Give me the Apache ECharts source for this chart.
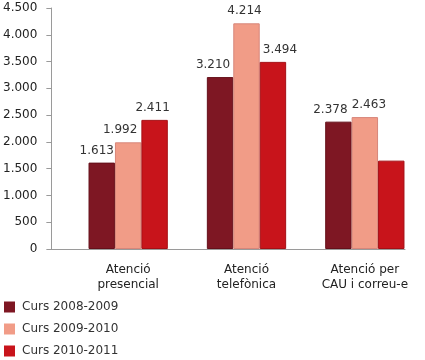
<!DOCTYPE html>
<html><head><meta charset="utf-8">
<script src="https://cdn.jsdelivr.net/npm/echarts@6/dist/echarts.min.js"></script>
<style>html,body{margin:0;padding:0;background:#fff}#c{width:425px;height:360px}</style>
</head><body><div id="c"></div>
<script>
const categories = ['Atenció\npresencial', 'Atenció\ntelefònica', 'Atenció per\nCAU i correu-e'];
const seriesNames = ['Curs 2008-2009', 'Curs 2009-2010', 'Curs 2010-2011'];
const values2008 = [1613, 3210, 2378];
const values2009 = [1992, 4214, 2463];
const values2010 = [2411, 3494, 1650];
const showLabel2010 = [true, true, false];
const yTicks = [0, 500, 1000, 1500, 2000, 2500, 3000, 3500, 4000, 4500];

const colors = ['#7e1723', '#f19c87', '#c8141b'];
const borders = ['#65101a', '#d7867a', '#a50f15'];
// horizontal nudges of the value labels (style only)
const labelShift = [[-5, -7, -8], [-8, -2, 4], [-2, 7, 0]];
const fnt = 'DejaVu Sans';
function fmt(v){ return String(v).replace(/\B(?=(\d{3})+(?!\d))/g, '.'); }

const yMin = yTicks[0], yMax = yTicks[yTicks.length-1], yInt = yTicks[1]-yTicks[0];

function mk(i, vals, flags){
  return {
    type:'bar', name: seriesNames[i], xAxisIndex:0, yAxisIndex:0,
    barGap:'0%', barCategoryGap:'33%',
    itemStyle:{color:colors[i], borderColor:borders[i], borderWidth:1},
    label:{show:true, position:'top', distance:6, color:'#333', fontFamily:fnt, fontSize:12,
      formatter:p=>fmt(p.value)},
    data: vals.map((v,k)=> (flags && !flags[k]) ? {value:v, label:{show:false}}
                                               : {value:v, label:{offset:[labelShift[i][k],0]}})
  };
}

const chart = echarts.init(document.getElementById('c'));
chart.setOption({
  animation:false,
  backgroundColor:'#fff',
  textStyle:{fontFamily:fnt},
  grid:[
    {left:69, right:1, top:8, bottom:111},
    {left:51, right:20, top:8, bottom:111}
  ],
  xAxis:[
    {type:'category', gridIndex:0, data:categories,
      axisLine:{show:false}, axisTick:{show:false},
      axisLabel:{color:'#222', fontFamily:fnt, fontSize:12, lineHeight:15, margin:13}},
    {type:'category', gridIndex:1, data:[''],
      axisLine:{show:true, lineStyle:{color:'#9a9a9a', width:1}}, axisTick:{show:false},
      axisLabel:{show:false}}
  ],
  yAxis:[
    {type:'value', gridIndex:0, min:yMin, max:yMax, interval:yInt, show:false, splitLine:{show:false}},
    {type:'value', gridIndex:1, min:yMin, max:yMax, interval:yInt,
      axisLine:{show:true, lineStyle:{color:'#9a9a9a', width:1}},
      axisTick:{show:true, length:5, lineStyle:{color:'#9a9a9a'}},
      splitLine:{show:false},
      axisLabel:{color:'#222', fontFamily:fnt, fontSize:12, margin:14, formatter:v=>fmt(v)}}
  ],
  legend:{
    orient:'vertical', left:4, top:301, padding:0, height:80, width:200, itemWidth:11, itemHeight:11, itemGap:10,
    icon:'rect', data:seriesNames,
    itemStyle:{borderWidth:0},
    textStyle:{color:'#333', fontFamily:fnt, fontSize:12, padding:[0,0,0,2]}
  },
  series:[ mk(0, values2008), mk(1, values2009), mk(2, values2010, showLabel2010) ]
});
</script></body></html>
